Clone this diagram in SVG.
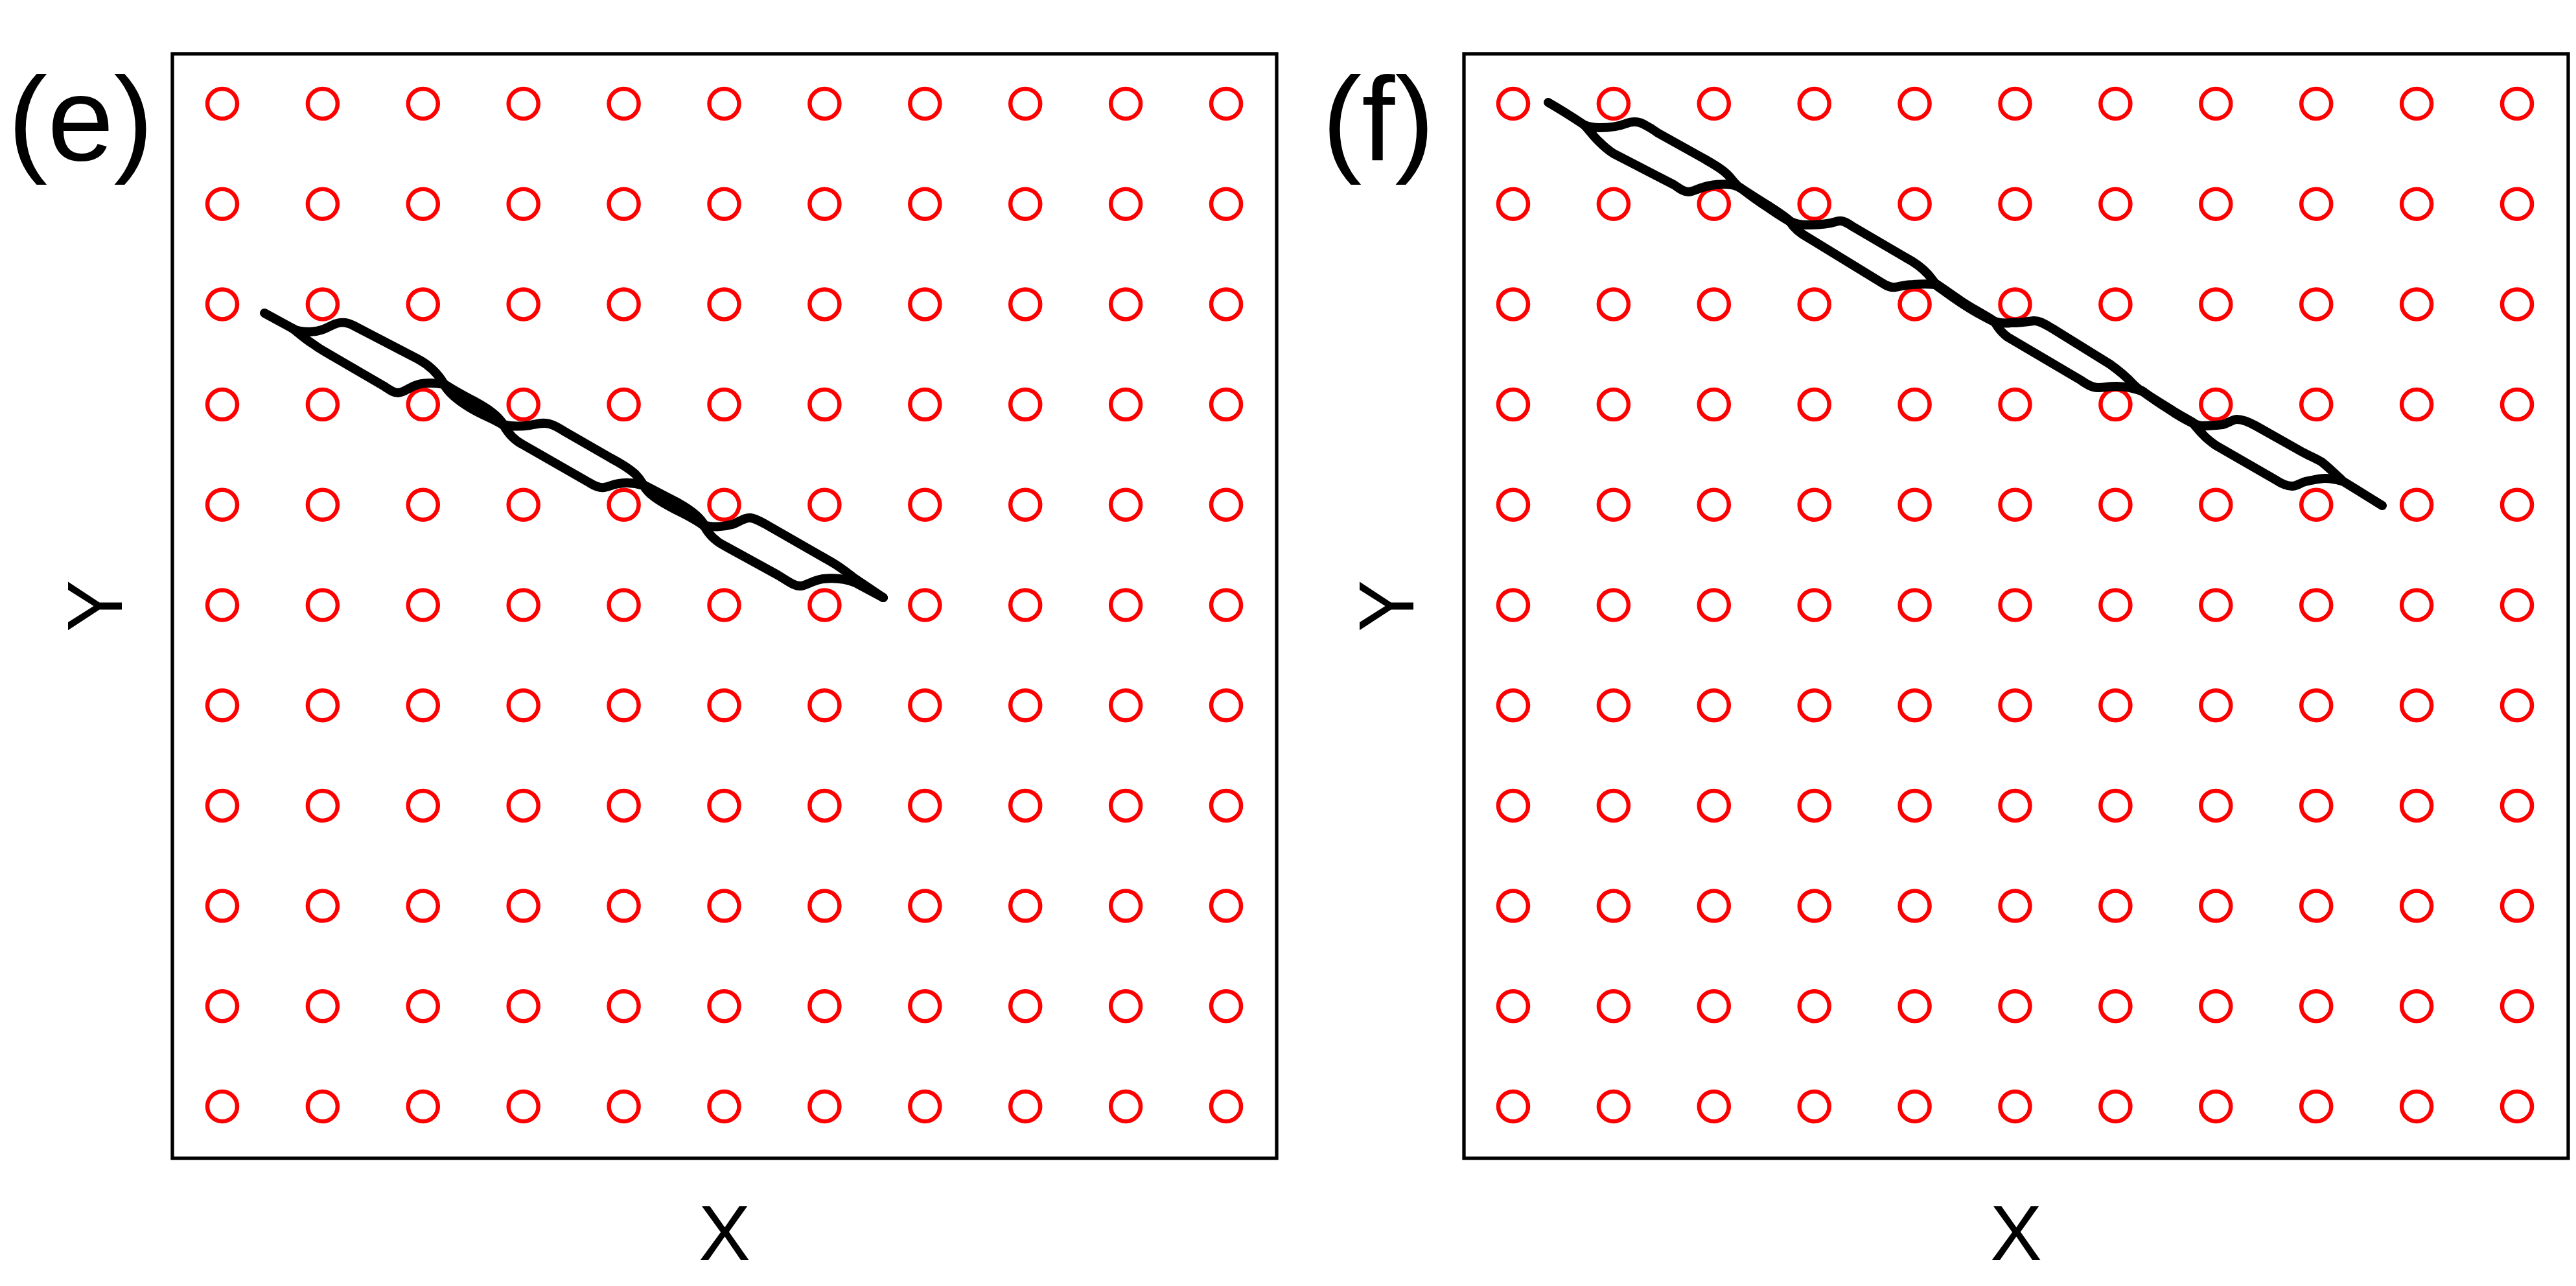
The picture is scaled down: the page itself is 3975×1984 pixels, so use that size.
<svg xmlns="http://www.w3.org/2000/svg" xmlns:xlink="http://www.w3.org/1999/xlink" width="3975" height="1984" viewBox="0 0 3975 1984">
<style>
.frame{fill:none;stroke:#000;stroke-width:5.3}
.pt{fill:none;stroke:#FF0000;stroke-width:6.5}
.curve{fill:none;stroke:#000;stroke-width:14;stroke-linecap:round;stroke-linejoin:round}
.lbl{font-family:"Liberation Sans",Arial,sans-serif;fill:#000}
.tag{font-size:184px}
.ax{font-size:120px}
</style>
<defs>
<g id="row">
<circle class="pt" cx="0" cy="0" r="23"/>
<circle class="pt" cx="154.9" cy="0" r="23"/>
<circle class="pt" cx="309.8" cy="0" r="23"/>
<circle class="pt" cx="464.7" cy="0" r="23"/>
<circle class="pt" cx="619.6" cy="0" r="23"/>
<circle class="pt" cx="774.5" cy="0" r="23"/>
<circle class="pt" cx="929.4" cy="0" r="23"/>
<circle class="pt" cx="1084.3" cy="0" r="23"/>
<circle class="pt" cx="1239.2" cy="0" r="23"/>
<circle class="pt" cx="1394.1" cy="0" r="23"/>
<circle class="pt" cx="1549" cy="0" r="23"/>
</g>
<g id="grid">
<use xlink:href="#row" href="#row" y="160"/>
<use xlink:href="#row" href="#row" y="314.7"/>
<use xlink:href="#row" href="#row" y="469.4"/>
<use xlink:href="#row" href="#row" y="624.1"/>
<use xlink:href="#row" href="#row" y="778.8"/>
<use xlink:href="#row" href="#row" y="933.5"/>
<use xlink:href="#row" href="#row" y="1088.2"/>
<use xlink:href="#row" href="#row" y="1242.9"/>
<use xlink:href="#row" href="#row" y="1397.6"/>
<use xlink:href="#row" href="#row" y="1552.3"/>
<use xlink:href="#row" href="#row" y="1707"/>
</g>
</defs>
<rect width="3975" height="1984" fill="#fff"/>

<g id="panel-e">
<rect class="frame" x="266" y="83" width="1704" height="1704"/>
<use xlink:href="#grid" href="#grid" x="343"/>
<text class="lbl tag" x="12" y="247">(e)</text>
<text class="lbl ax" x="1118" y="1944" text-anchor="middle">X</text>
<text class="lbl ax" transform="translate(188,935) rotate(-90)" text-anchor="middle">Y</text>
<g id="curve-e" class="curve">
<path d="M408,483 L452,507"/>
<path d="M452,507 C460,512 470,512 478,512 C492,512 502,507 512,502 C522,497 532,495 545,502 L645,554 C662,563 675,575 685,592"/>
<path d="M452,507 C462,515 472,524 482,530 C490,536 495,539 502,543 L593,596 C601,601 607,606 614,606 C622,606 630,599 640,595 C652,590 670,590 685,593"/>
<path d="M685,592 C700,602 715,610 732,619 C752,630 768,640 777,655"/>
<path d="M685,593 C692,606 705,617 725,629 C745,641 765,648 777,656"/>
<path d="M777,655 C788,658 805,658 818,656 C828,654 838,651 848,654 C856,656 862,660 870,665 L943,707 C960,716 972,724 980,731 C986,737 990,743 993,748"/>
<path d="M777,656 C785,670 795,680 807,686 L910,745 C918,750 925,753 932,752 C940,751 946,747 955,746 C968,744 980,745 993,749"/>
<path d="M993,748 C1010,757 1030,767 1047,776 C1065,786 1080,797 1087,810"/>
<path d="M993,749 C1000,762 1015,772 1040,785 C1060,795 1075,802 1087,812"/>
<path d="M1087,810 C1098,814 1115,813 1130,809 C1140,806 1148,798 1158,799 C1166,800 1172,804 1180,808 L1283,867 C1297,875 1308,884 1317,891 L1363,922"/>
<path d="M1087,812 C1094,825 1104,835 1118,842 L1200,887 C1215,896 1226,905 1236,904 C1245,903 1255,895 1270,893 C1288,891 1305,893 1320,899 L1363,922"/>
</g>
</g>

<g id="panel-f">
<rect class="frame" x="2259" y="83" width="1704" height="1704"/>
<use xlink:href="#grid" href="#grid" x="2335"/>
<text class="lbl tag" x="2040" y="247">(f)</text>
<text class="lbl ax" x="3111" y="1944" text-anchor="middle">X</text>
<text class="lbl ax" transform="translate(2181,935) rotate(-90)" text-anchor="middle">Y</text>
<g id="curve-f" class="curve">
<path d="M2389,158 C2410,170 2430,183 2445,193"/>
<path d="M2445,193 C2452,196 2458,197 2468,197 C2480,197 2495,196 2508,191 C2516,188 2525,186 2535,191 C2545,196 2550,199 2558,205 L2628,244 C2645,254 2660,262 2670,274 C2676,281 2679,285 2684,289"/>
<path d="M2445,193 C2455,204 2460,212 2467,218 C2475,226 2482,232 2490,237 L2583,285 C2592,291 2598,296 2605,296 C2612,296 2620,291 2628,289 C2640,285 2658,283 2672,285 C2678,286 2682,288 2686,290"/>
<path d="M2684,289 C2700,299 2715,309 2730,318 C2745,328 2755,334 2762,341"/>
<path d="M2686,290 C2700,301 2712,310 2728,320 C2742,330 2752,336 2762,342"/>
<path d="M2762,341 C2770,346 2778,347 2790,347 C2805,347 2820,346 2833,342 C2841,339 2848,342 2858,349 L2940,397 C2955,405 2965,412 2975,423 C2980,429 2983,433 2986,437"/>
<path d="M2762,342 C2770,354 2778,360 2789,366 L2905,437 C2913,442 2918,444 2925,443 C2935,441 2942,439 2952,439 C2965,438 2976,438 2986,439"/>
<path d="M2986,437 C3000,446 3012,455 3027,465 C3045,477 3065,487 3078,496"/>
<path d="M2986,439 C3000,449 3012,458 3027,468 C3045,480 3062,489 3078,497"/>
<path d="M3078,496 C3088,499 3095,499 3103,498 C3112,498 3125,497 3138,495 C3148,494 3158,502 3169,508 L3256,562 C3270,572 3282,582 3292,593 C3296,597 3299,600 3305,603"/>
<path d="M3078,497 C3085,509 3091,515 3098,520 L3154,553 L3210,586 C3220,593 3228,598 3237,598 C3247,598 3255,596 3266,596 C3280,596 3293,599 3307,604"/>
<path d="M3305,603 C3320,614 3340,625 3355,635 C3368,643 3378,648 3384,652"/>
<path d="M3307,604 C3322,616 3340,627 3355,637 C3368,645 3377,650 3384,653"/>
<path d="M3384,652 C3390,656 3395,657 3399,657 C3410,657 3420,656 3430,655 C3440,652 3445,647 3452,647 C3460,647 3470,651 3481,657 L3552,697 C3565,704 3575,708 3583,713 C3592,720 3600,728 3613,740"/>
<path d="M3384,653 C3390,660 3394,665 3399,670 C3405,677 3412,682 3419,687 L3511,740 C3520,746 3528,750 3537,750 C3545,750 3552,743 3562,742 C3572,740 3580,738 3588,738 C3598,738 3606,740 3613,742"/>
<path d="M3613,741 L3639,757 L3676,780"/>
</g>
</g>
</svg>
